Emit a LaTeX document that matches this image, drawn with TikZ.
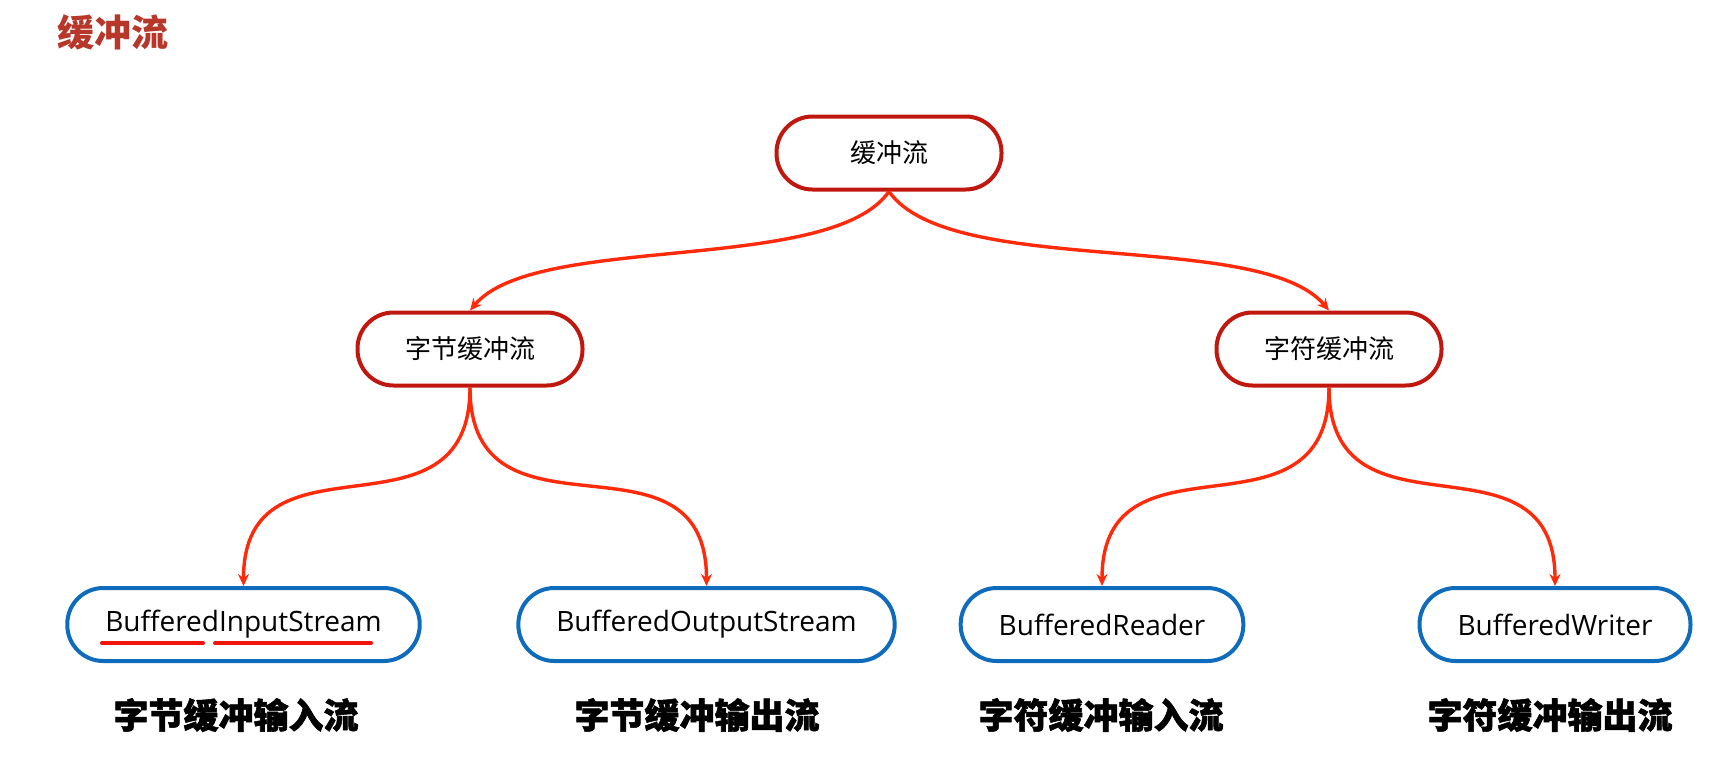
\documentclass[tikz,border=0pt]{standalone}
\usepackage{fontspec}
\setmainfont{Open Sans}
\newfontfamily\cjk{Noto Sans CJK SC}
\newfontfamily\cjkheavy{Noto Sans CJK SC Black}[FakeBold=1.5]
\usetikzlibrary{arrows.meta, positioning}
\definecolor{titlecolor}{HTML}{B7372B}
\definecolor{catcolor}{HTML}{C0170F}
\definecolor{linkcolor}{HTML}{FF2A0A}
\definecolor{classcolor}{HTML}{0F6CBD}
\definecolor{markcolor}{HTML}{F0140A}

\begin{document}
\begin{tikzpicture}[x=0.5pt, y=-0.5pt,
    catbox/.style={draw=catcolor, line width=2pt, rounded corners=18pt,
        minimum width=112.5pt, minimum height=36.5pt,
        font=\cjk\fontsize{13}{15}\selectfont},
    classbox/.style={draw=classcolor, line width=2pt, rounded corners=18pt,
        minimum height=36.5pt, inner xsep=19pt,
        font=\fontsize{14}{16}\selectfont},
    caption/.style={font=\cjkheavy\fontsize{17.5}{20}\selectfont},
    link/.style={draw=linkcolor, line width=1.7pt,
        -{Stealth[length=6pt, width=5.5pt]}}]
    \useasboundingbox (0,0) rectangle (1711,760);

    % Title
    \node[font=\cjk\bfseries\fontsize{18.5}{22}\selectfont, text=titlecolor]
        (title) at (113,32) {缓冲流};

    % Root
    \node[catbox] (root) at (889,153) {缓冲流};

    % Byte / char branches
    \node[catbox] (bytebuf) at (470,349) {字节缓冲流};
    \node[catbox] (charbuf) at (1329,349) {字符缓冲流};

    % Classes
    \node[classbox] (bis) at (243.5,624.5) {BufferedInputStream};
    \node[classbox] (bos) at (706.5,624.5) {BufferedOutputStream};
    \node[classbox] (br) at (1102,624.5) {BufferedReader};
    \node[classbox] (bw) at (1555,624.5) {BufferedWriter};

    % Captions
    \node[caption] (bisname) at (236,715) {字节缓冲输入流};
    \node[caption] (bosname) at (697,715) {字节缓冲输出流};
    \node[caption] (brname) at (1101,715) {字符缓冲输入流};
    \node[caption] (bwname) at (1550,715) {字符缓冲输出流};

    % Links
    \draw[link] (root.south) to[out=-125, in=50, looseness=0.6] (bytebuf.north);
    \draw[link] (root.south) to[out=-55, in=130, looseness=0.6] (charbuf.north);
    \draw[link] (bytebuf.south) to[out=-90, in=90, looseness=1.4] (bis.north);
    \draw[link] (bytebuf.south) to[out=-90, in=90, looseness=1.4] (bos.north);
    \draw[link] (charbuf.south) to[out=-90, in=90, looseness=1.4] (br.north);
    \draw[link] (charbuf.south) to[out=-90, in=90, looseness=1.4] (bw.north);

    % Underlines
    \draw[markcolor, line width=2pt, line cap=round] (102,643) -- (203,643);
    \draw[markcolor, line width=2pt, line cap=round] (215,643) -- (371,643);
\end{tikzpicture}
\end{document}
